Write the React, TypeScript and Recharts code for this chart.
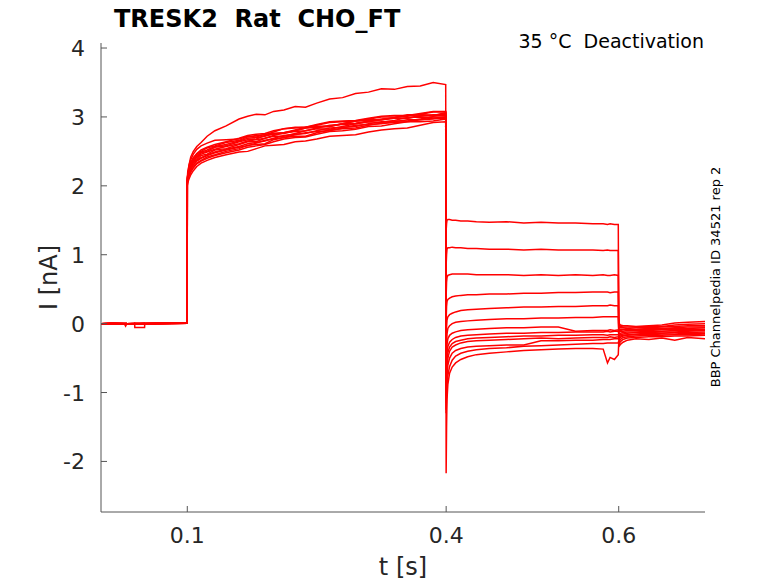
import { LineChart, Line, XAxis, YAxis } from "recharts";

const RED = "#ff0000";
const AXIS = "#555555";
const INK = "#262626";
const FONT = "'DejaVu Sans', sans-serif";

// time grid (s), split by protocol phase
const TIME_BASE = [0, 0.012, 0.027, 0.0285, 0.03, 0.039, 0.0392, 0.0505, 0.0507, 0.065, 0.082, 0.0999];
const TIME_ACT = [
  0.1, 0.1005, 0.102, 0.104, 0.107, 0.111, 0.116, 0.123, 0.132, 0.145, 0.16, 0.17, 0.18, 0.19, 0.2,
  0.212, 0.225, 0.237, 0.25, 0.265, 0.28, 0.295, 0.31, 0.325, 0.34, 0.355, 0.37, 0.385, 0.3995,
];
const TIME_TAIL = [0.4, 0.4005, 0.401, 0.402, 0.404, 0.407, 0.411, 0.417, 0.425, 0.435, 0.45, 0.47, 0.49, 0.51, 0.53, 0.55, 0.57, 0.582, 0.587, 0.59, 0.595, 0.5995];
const TIME_POST = [0.6, 0.6005, 0.602, 0.605, 0.61, 0.62, 0.635, 0.65, 0.665, 0.68, 0.7];

// holding current before the prepulse (nA)
const BASE_1 = [0, 0.004, 0.002, 0.003, 0.001, -0.002, 0.001, 0.003, 0.002, 0.004, 0.006, 0.008];
const BASE_2 = [-0.004, -0.002, 0, -0.003, -0.001, 0, -0.004, 0, -0.002, 0, 0.002, 0.004];
const BASE_TICK = [0, 0, 0, -0.035, 0, 0.002, 0, 0.002, 0.003, 0, 0.004, 0.006];
const BASE_DIP = [0, 0.002, 0, 0, 0, 0, -0.055, -0.055, 0, 0.004, 0.006, 0.01];
const BASELINE = [BASE_1, BASE_2, BASE_1, BASE_2, BASE_TICK, BASE_1, BASE_2, BASE_1, BASE_2, BASE_1, BASE_2, BASE_1, BASE_DIP];

// prepulse (activation) current, one row per sweep
const ACTIVATION = [
  [2.08, 2.16, 2.25, 2.31, 2.38, 2.44, 2.49, 2.52, 2.57, 2.6, 2.65, 2.69, 2.7, 2.72, 2.76, 2.77, 2.81, 2.85, 2.86, 2.87, 2.9, 2.94, 2.95, 2.96, 2.99, 3.02, 3.03, 3.02, 3.05],
  [2.02, 2.08, 2.15, 2.21, 2.27, 2.33, 2.37, 2.42, 2.45, 2.5, 2.54, 2.59, 2.6, 2.61, 2.67, 2.7, 2.72, 2.72, 2.77, 2.81, 2.83, 2.84, 2.88, 2.91, 2.92, 2.93, 2.96, 2.98, 2.98],
  [2.1, 2.2, 2.3, 2.38, 2.46, 2.53, 2.58, 2.62, 2.66, 2.67, 2.68, 2.72, 2.71, 2.75, 2.76, 2.77, 2.8, 2.84, 2.85, 2.86, 2.9, 2.91, 2.94, 2.97, 2.98, 2.98, 3.02, 3.01, 3.04],
  [2.0, 2.05, 2.1, 2.16, 2.22, 2.28, 2.33, 2.37, 2.41, 2.45, 2.49, 2.5, 2.54, 2.58, 2.59, 2.6, 2.64, 2.65, 2.68, 2.72, 2.73, 2.74, 2.78, 2.81, 2.83, 2.84, 2.88, 2.92, 2.93],
  [2.04, 2.13, 2.21, 2.26, 2.34, 2.38, 2.44, 2.46, 2.52, 2.54, 2.6, 2.64, 2.64, 2.69, 2.72, 2.72, 2.76, 2.8, 2.83, 2.82, 2.86, 2.9, 2.93, 2.92, 2.95, 2.99, 3.0, 2.98, 3.0],
  [2.06, 2.15, 2.24, 2.32, 2.4, 2.46, 2.5, 2.55, 2.58, 2.63, 2.66, 2.71, 2.73, 2.74, 2.78, 2.83, 2.85, 2.85, 2.89, 2.93, 2.94, 2.95, 2.98, 3.01, 3.02, 3.02, 3.05, 3.08, 3.08],
  [2.03, 2.1, 2.18, 2.24, 2.3, 2.36, 2.4, 2.44, 2.48, 2.52, 2.56, 2.58, 2.62, 2.66, 2.68, 2.7, 2.74, 2.77, 2.79, 2.8, 2.84, 2.88, 2.89, 2.9, 2.93, 2.96, 2.96, 2.97, 2.99],
  [2.05, 2.14, 2.22, 2.29, 2.35, 2.41, 2.46, 2.49, 2.53, 2.57, 2.61, 2.65, 2.67, 2.69, 2.73, 2.77, 2.79, 2.8, 2.84, 2.88, 2.89, 2.9, 2.93, 2.96, 2.98, 2.98, 3.01, 3.03, 3.02],
  [2.01, 2.07, 2.14, 2.2, 2.26, 2.32, 2.36, 2.4, 2.44, 2.48, 2.52, 2.56, 2.58, 2.6, 2.64, 2.68, 2.7, 2.71, 2.75, 2.79, 2.8, 2.82, 2.86, 2.87, 2.9, 2.93, 2.93, 2.94, 2.97],
  [2.07, 2.13, 2.23, 2.3, 2.37, 2.42, 2.48, 2.5, 2.56, 2.58, 2.64, 2.67, 2.68, 2.73, 2.75, 2.76, 2.8, 2.84, 2.86, 2.86, 2.9, 2.94, 2.96, 2.96, 2.99, 3.03, 3.03, 3.02, 3.06],
  [2.04, 2.11, 2.19, 2.25, 2.31, 2.37, 2.41, 2.45, 2.49, 2.53, 2.57, 2.61, 2.63, 2.65, 2.69, 2.73, 2.75, 2.76, 2.8, 2.84, 2.85, 2.86, 2.9, 2.93, 2.94, 2.94, 2.97, 3.0, 3.0],
  [2.06, 2.16, 2.26, 2.34, 2.41, 2.47, 2.52, 2.56, 2.6, 2.64, 2.69, 2.73, 2.75, 2.76, 2.8, 2.83, 2.84, 2.85, 2.88, 2.92, 2.93, 2.94, 2.97, 3.0, 3.0, 3.01, 3.04, 3.07, 3.07],
  [2.0, 2.15, 2.3, 2.42, 2.5, 2.57, 2.63, 2.72, 2.8, 2.87, 2.97, 3.01, 3.04, 3.03, 3.08, 3.1, 3.15, 3.14, 3.2, 3.26, 3.28, 3.34, 3.36, 3.41, 3.4, 3.44, 3.45, 3.5, 3.47],
];

// tail current at the test potentials
const TAIL = [
  [1.35, 1.45, 1.5, 1.51, 1.51, 1.5, 1.5, 1.49, 1.49, 1.48, 1.47, 1.48, 1.46, 1.47, 1.46, 1.46, 1.45, 1.45, 1.44, 1.45, 1.44, 1.44],
  [0.85, 1.0, 1.08, 1.1, 1.1, 1.11, 1.1, 1.1, 1.09, 1.09, 1.08, 1.08, 1.07, 1.08, 1.07, 1.07, 1.07, 1.06, 1.07, 1.06, 1.06, 1.06],
  [0.4, 0.6, 0.67, 0.7, 0.71, 0.72, 0.72, 0.72, 0.72, 0.71, 0.71, 0.71, 0.7, 0.71, 0.7, 0.71, 0.7, 0.71, 0.7, 0.7, 0.71, 0.7],
  [0.05, 0.25, 0.32, 0.35, 0.37, 0.39, 0.4, 0.41, 0.42, 0.42, 0.43, 0.43, 0.44, 0.44, 0.45, 0.45, 0.46, 0.46, 0.46, 0.45, 0.46, 0.46],
  [-0.3, -0.05, 0.05, 0.1, 0.13, 0.15, 0.17, 0.19, 0.2, 0.21, 0.22, 0.23, 0.24, 0.24, 0.25, 0.25, 0.26, 0.26, 0.26, 0.27, 0.26, 0.26],
  [-0.55, -0.3, -0.15, -0.07, -0.03, 0.0, 0.02, 0.03, 0.04, 0.05, 0.06, 0.07, 0.07, 0.08, 0.08, 0.09, 0.09, 0.1, 0.1, 0.1, 0.1, 0.1],
  [-0.75, -0.45, -0.3, -0.22, -0.17, -0.14, -0.12, -0.1, -0.09, -0.08, -0.07, -0.06, -0.06, -0.05, -0.05, -0.11, -0.1, -0.1, -0.1, -0.09, -0.1, -0.09],
  [-0.9, -0.6, -0.42, -0.33, -0.27, -0.23, -0.2, -0.18, -0.17, -0.16, -0.15, -0.14, -0.14, -0.13, -0.13, -0.12, -0.12, -0.12, -0.11, -0.12, -0.11, -0.11],
  [-1.05, -0.75, -0.55, -0.42, -0.34, -0.29, -0.26, -0.24, -0.22, -0.21, -0.2, -0.19, -0.18, -0.18, -0.17, -0.17, -0.16, -0.16, -0.17, -0.16, -0.16, -0.16],
  [-1.15, -0.85, -0.65, -0.5, -0.4, -0.34, -0.31, -0.28, -0.26, -0.25, -0.24, -0.23, -0.22, -0.21, -0.22, -0.21, -0.2, -0.2, -0.2, -0.19, -0.2, -0.19],
  [-1.25, -0.95, -0.75, -0.6, -0.5, -0.43, -0.39, -0.36, -0.34, -0.33, -0.32, -0.31, -0.31, -0.25, -0.25, -0.24, -0.24, -0.23, -0.23, -0.23, -0.22, -0.22],
  [-1.3, -1.1, -0.9, -0.75, -0.62, -0.53, -0.47, -0.43, -0.4, -0.38, -0.36, -0.35, -0.33, -0.32, -0.31, -0.3, -0.29, -0.29, -0.28, -0.28, -0.28, -0.28],
  [-2.17, -1.5, -1.1, -0.88, -0.72, -0.63, -0.57, -0.52, -0.48, -0.45, -0.43, -0.41, -0.39, -0.38, -0.37, -0.36, -0.36, -0.37, -0.57, -0.49, -0.52, -0.45],
];

// after the return step
const POST = [
  [0.1, 0.0, -0.02, -0.03, -0.03, -0.04, -0.03, -0.02, 0.01, 0.02, 0.03],
  [0.05, -0.02, -0.04, -0.05, -0.05, -0.05, -0.04, -0.04, -0.02, -0.01, 0.0],
  [0.0, -0.05, -0.06, -0.06, -0.07, -0.06, -0.06, -0.05, -0.04, -0.03, -0.03],
  [-0.05, -0.08, -0.08, -0.08, -0.08, -0.08, -0.07, -0.07, -0.06, -0.05, -0.05],
  [-0.08, -0.1, -0.1, -0.09, -0.09, -0.09, -0.08, -0.08, -0.07, -0.07, -0.06],
  [-0.1, -0.12, -0.11, -0.11, -0.1, -0.1, -0.1, -0.09, -0.09, -0.08, -0.08],
  [-0.12, -0.15, -0.14, -0.13, -0.12, -0.12, -0.11, -0.11, -0.1, -0.1, -0.09],
  [-0.15, -0.18, -0.16, -0.15, -0.14, -0.13, -0.13, -0.12, -0.12, -0.11, -0.1],
  [-0.18, -0.2, -0.18, -0.17, -0.16, -0.15, -0.14, -0.14, -0.13, -0.13, -0.12],
  [-0.2, -0.23, -0.2, -0.18, -0.17, -0.16, -0.16, -0.15, -0.15, -0.14, -0.14],
  [-0.22, -0.26, -0.23, -0.2, -0.19, -0.18, -0.17, -0.17, -0.16, -0.16, -0.15],
  [-0.25, -0.3, -0.26, -0.23, -0.21, -0.2, -0.19, -0.19, -0.18, -0.18, -0.17],
  [-0.28, -0.33, -0.3, -0.27, -0.24, -0.22, -0.23, -0.21, -0.24, -0.2, -0.22],
];

const X_TICKS = [0.1, 0.4, 0.6];
const Y_TICKS = [-2, -1, 0, 1, 2, 3, 4];
const X_DOMAIN: [number, number] = [0, 0.7];
const Y_DOMAIN: [number, number] = [-2.734, 4.073];

const TIME = [...TIME_BASE, ...TIME_ACT, ...TIME_TAIL, ...TIME_POST];
const SWEEPS = ACTIVATION.map((_, k) => [...BASELINE[k], ...ACTIVATION[k], ...TAIL[k], ...POST[k]]);

const rows = TIME.map((t, i) => {
  const r: Record<string, number> = { t };
  SWEEPS.forEach((vals, k) => {
    r[`s${k}`] = vals[i];
  });
  return r;
});

const Y_TICK_MARGIN = 16;
const X_TICK_MARGIN = 4;

// ticks point into the plot, like the MATLAB original
function YTick(props: any) {
  const { x, y, payload } = props;
  const axisX = x + Y_TICK_MARGIN;
  return (
    <g>
      <line x1={axisX} x2={axisX + 6} y1={y} y2={y} stroke={AXIS} />
      <text x={x} y={y} dy={8} textAnchor="end" fontSize={22} fill={INK} fontFamily={FONT}>
        {payload.value}
      </text>
    </g>
  );
}

function XTick(props: any) {
  const { x, y, payload } = props;
  const axisY = y - X_TICK_MARGIN;
  return (
    <g>
      <line x1={x} x2={x} y1={axisY} y2={axisY - 6} stroke={AXIS} />
      <text x={x} y={axisY + 31} textAnchor="middle" fontSize={22} fill={INK} fontFamily={FONT}>
        {payload.value}
      </text>
    </g>
  );
}

export default function App() {
  return (
    <div style={{ position: "absolute", left: 0, top: 0, width: 778, height: 583, background: "#fff" }}>
      <LineChart width={778} height={583} data={rows} margin={{ top: 43, right: 73, bottom: 0, left: 0 }}>
        <XAxis
          dataKey="t"
          type="number"
          domain={X_DOMAIN}
          ticks={X_TICKS}
          interval={0}
          height={71}
          tickSize={0}
          tickMargin={X_TICK_MARGIN}
          tick={<XTick />}
          axisLine={{ stroke: AXIS }}
          allowDataOverflow
        />
        <YAxis
          type="number"
          domain={Y_DOMAIN}
          ticks={Y_TICKS}
          interval={0}
          width={101}
          tickSize={0}
          tickMargin={Y_TICK_MARGIN}
          tick={<YTick />}
          axisLine={{ stroke: AXIS }}
          allowDataOverflow
        />
        {SWEEPS.map((_, k) => (
          <Line
            key={k}
            type="linear"
            dataKey={`s${k}`}
            stroke={RED}
            strokeWidth={1.5}
            dot={false}
            activeDot={false}
            isAnimationActive={false}
          />
        ))}
      </LineChart>
      <svg width={778} height={583} style={{ position: "absolute", left: 0, top: 0, pointerEvents: "none" }}>
        <text x={114} y={27} fontSize={24} fontWeight="bold" fill="#000" fontFamily={FONT} style={{ whiteSpace: "pre" }}>
          TRESK2  Rat  CHO_FT
        </text>
        <text x={704} y={48} fontSize={19} textAnchor="end" fill="#000" fontFamily={FONT} style={{ whiteSpace: "pre" }}>
          35 °C  Deactivation
        </text>
        <text transform="translate(719.5,277) rotate(-90)" fontSize={13} textAnchor="middle" fill="#000" fontFamily={FONT}>
          BBP Channelpedia ID 34521 rep 2
        </text>
        <text transform="translate(57,277.5) rotate(-90)" fontSize={24} textAnchor="middle" fill={INK} fontFamily={FONT}>
          I [nA]
        </text>
        <text x={403} y={575} fontSize={24} textAnchor="middle" fill={INK} fontFamily={FONT}>
          t [s]
        </text>
      </svg>
    </div>
  );
}
